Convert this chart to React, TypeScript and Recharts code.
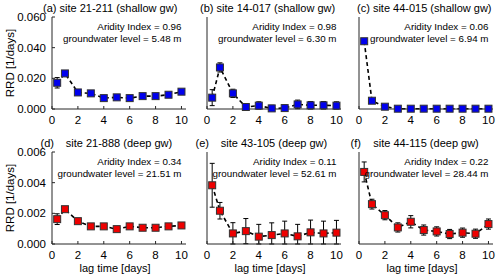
import { ComposedChart, Line, XAxis, YAxis, ErrorBar } from 'recharts';

// lag times [days]
const lagDays = [0.4, 1, 2, 3, 4, 5, 6, 7, 8, 9, 10];
const xTicks = [0, 2, 4, 6, 8, 10];
const shallowTicks = [0, 0.02, 0.04, 0.06];
const deepTicks = [0, 0.002, 0.004, 0.006];

const siteNames = ['21-211', '14-017', '44-015', '21-888', '43-105', '44-115'];
const gwKind = ['shallow gw', 'shallow gw', 'shallow gw', 'deep gw', 'deep gw', 'deep gw'];
const panelLetters = ['a', 'b', 'c', 'd', 'e', 'f'];
const aridityIndex = ['0.96', '0.98', '0.06', '0.34', '0.11', '0.22'];
const gwLevel = ['5.48', '6.30', '6.94', '21.51', '52.61', '28.44'];

// RRD [1/days] and error bar half-lengths
const rrd21211 = [0.0171, 0.0232, 0.0108, 0.0102, 0.0071, 0.0076, 0.0071, 0.0084, 0.0084, 0.0093, 0.0113];
const err21211 = [0.0034, 0.0012, 0.0012, 0.0012, 0.001, 0.001, 0.001, 0.001, 0.001, 0.0012, 0.0012];
const rrd14017 = [0.0074, 0.0271, 0.0102, 0.0013, 0.0022, 0.0004, 0.0006, 0.003, 0.0024, 0.0024, 0.0022];
const err14017 = [0.0052, 0.003, 0.0027, 0.002, 0.0025, 0.002, 0.002, 0.0028, 0.0025, 0.0025, 0.0025];
const rrd44015 = [0.0442, 0.0054, 0.0015, 0.0002, 0.0002, 0.0002, 0.0002, 0.0002, 0.0002, 0.0002, 0.0002];
const err44015 = [0.0008, 0.0008, 0.0006, 0.0004, 0.0004, 0.0004, 0.0004, 0.0004, 0.0004, 0.0004, 0.0004];
const rrd21888 = [0.00162, 0.00227, 0.00149, 0.00115, 0.00115, 0.00097, 0.00115, 0.00106, 0.00106, 0.00115, 0.00121];
const err21888 = [0.00035, 0.0001, 0.0001, 0.0001, 0.0001, 0.0001, 0.0001, 0.0001, 0.0001, 0.0001, 0.0001];
const rrd43105 = [0.00383, 0.00217, 0.00069, 0.00084, 0.00048, 0.00058, 0.00069, 0.0005, 0.00076, 0.00069, 0.00074];
const err43105 = [0.00143, 0.00054, 0.0007, 0.00082, 0.0008, 0.0008, 0.0008, 0.00078, 0.0008, 0.0008, 0.0008];
const rrd44115 = [0.0047, 0.0026, 0.00188, 0.00108, 0.00145, 0.00091, 0.00082, 0.00065, 0.00074, 0.00067, 0.0013];
const err44115 = [0.00065, 0.00032, 0.0003, 0.0003, 0.0004, 0.00033, 0.0003, 0.0003, 0.0003, 0.0003, 0.00033];

const seriesValues = [rrd21211, rrd14017, rrd44015, rrd21888, rrd43105, rrd44115];
const seriesErrors = [err21211, err14017, err44015, err21888, err43105, err44115];

const FONT = '"Liberation Sans", Arial, Helvetica, sans-serif';
const AXIS = '#262626';
const COL_LEFT = [52, 207, 359];
const ROW_TOP = [17, 152];
const PW = 134;
const PH = 92;
const MT = 8;
const MR = 8;
const X_DOMAIN = [0, 10.35];
const TITLE_X = [43, 200, 357];

const squareDot = (fill: string) => (props: any) => {
  const { cx, cy, index } = props;
  if (cx == null || cy == null) return <g key={index} />;
  return (
    <rect key={index} x={cx - 3.5} y={cy - 3.5} width={7} height={7} fill={fill} stroke="#333" strokeWidth={1} />
  );
};

function Panel({ i }: { i: number }) {
  const col = i % 3;
  const row = Math.floor(i / 3);
  const left = COL_LEFT[col];
  const top = ROW_TOP[row];
  const ml = col === 0 ? 52 : 6;
  const vals = seriesValues[i];
  const errs = seriesErrors[i];
  const data = lagDays.map((x, k) => ({
    x,
    y: vals[k],
    err: [Math.min(errs[k], vals[k]), errs[k]],
  }));
  const yTicks = row === 0 ? shallowTicks : deepTicks;
  const yMax = yTicks[yTicks.length - 1];
  const fill = row === 0 ? '#0000ee' : '#ee0000';

  return (
    <div style={{ position: 'absolute', left: left - ml, top: top - MT }}>
      <ComposedChart
        width={ml + PW + MR}
        height={MT + PH + 28}
        data={data}
        margin={{ top: MT, right: MR, left: 0, bottom: 0 }}
      >
        <XAxis
          dataKey="x"
          type="number"
          domain={X_DOMAIN}
          ticks={xTicks}
          interval={0}
          height={28}
          tickSize={-3}
          tickMargin={10}
          stroke={AXIS}
          tick={{ fill: '#000', fontSize: 11.5, fontFamily: FONT }}
        />
        <XAxis
          xAxisId="top"
          orientation="top"
          type="number"
          domain={X_DOMAIN}
          allowDataOverflow
          ticks={xTicks}
          interval={0}
          height={0}
          tickSize={-3}
          tick={false}
          stroke={AXIS}
        />
        <YAxis
          type="number"
          domain={[0, yMax]}
          ticks={yTicks}
          interval={0}
          width={ml}
          tickSize={-3}
          tickMargin={9}
          stroke={AXIS}
          tickFormatter={(v: number) => v.toFixed(3)}
          tick={col === 0 ? { fill: '#000', fontSize: 11.5, fontFamily: FONT } : false}
        />
        <YAxis
          yAxisId="right"
          orientation="right"
          type="number"
          domain={[0, yMax]}
          allowDataOverflow
          ticks={yTicks}
          interval={0}
          width={0}
          tickSize={-3}
          tick={false}
          stroke={AXIS}
        />
        <Line
          dataKey="y"
          stroke="#000"
          strokeWidth={1.6}
          strokeDasharray="4 3"
          dot={squareDot(fill)}
          activeDot={false}
          isAnimationActive={false}
        >
          <ErrorBar dataKey="err" direction="y" width={2.5} stroke="#000" strokeWidth={1} isAnimationActive={false} />
        </Line>
      </ComposedChart>
    </div>
  );
}

export default function App() {
  return (
    <div style={{ position: 'absolute', left: 0, top: 0, width: 500, height: 279, background: '#fff' }}>
      {siteNames.map((_, i) => (
        <Panel key={i} i={i} />
      ))}
      <svg
        width={500}
        height={279}
        style={{ position: 'absolute', left: 0, top: 0, pointerEvents: 'none' }}
        fontFamily={FONT}
      >
        {siteNames.map((site, i) => {
          const col = i % 3;
          const row = Math.floor(i / 3);
          const left = COL_LEFT[col];
          const top = ROW_TOP[row];
          return (
            <g key={site}>
              {row === 0 ? (
                <text x={TITLE_X[col]} y={top - 5.5} fontSize={11} fill="#000">
                  {`(${panelLetters[i]}) site ${site} (${gwKind[i]})`}
                </text>
              ) : (
                <>
                  <text x={left + 2} y={top - 5} fontSize={11} fill="#000" textAnchor="end">
                    {`(${panelLetters[i]})`}
                  </text>
                  <text x={left + PW / 2} y={top - 5.5} fontSize={11} fill="#000" textAnchor="middle">
                    {`site ${site} (${gwKind[i]})`}
                  </text>
                </>
              )}
              <text x={left + PW - 4.5} y={top + 12.5} fontSize={9.8} fill="#000" textAnchor="end">
                {`Aridity Index = ${aridityIndex[i]}`}
              </text>
              <text x={left + PW - 4.5} y={top + 25} fontSize={9.8} fill="#000" textAnchor="end">
                {`groundwater level = ${gwLevel[i]} m`}
              </text>
              {row === 1 && (
                <text x={left + PW / 2 - 4} y={272} fontSize={11} fill="#000" textAnchor="middle">
                  lag time [days]
                </text>
              )}
            </g>
          );
        })}
        {ROW_TOP.map((top) => (
          <text
            key={top}
            x={14}
            y={top + PH / 2}
            fontSize={11.5}
            fill="#000"
            textAnchor="middle"
            transform={`rotate(-90 14 ${top + PH / 2})`}
          >
            RRD [1/days]
          </text>
        ))}
      </svg>
    </div>
  );
}
